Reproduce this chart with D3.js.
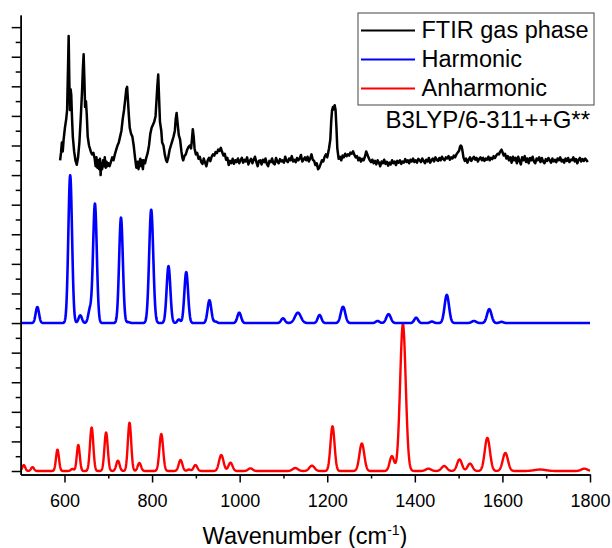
<!DOCTYPE html>
<html>
<head>
<meta charset="utf-8">
<script src="https://cdn.jsdelivr.net/npm/d3@7"></script>
<style>
body { margin: 0; background: #fff; }
svg text { font-family: "Liberation Sans", Arial, sans-serif; fill: #000; }
</style>
</head>
<body>
<svg id="fig" width="612" height="548"></svg>
<script>
// FTIR gas phase trace, [wavenumber, intensity] (offset units)
const ftir = [
  [590, 10.5], [592, 10.75], [594, 11.1], [596, 10.8], [598, 11.2], [601, 11.6], [604, 11.9],
  [606, 12.2], [608, 13.6], [609.5, 14.7], [611, 13.2], [612.5, 12.2], [614, 12.9], [615.5, 12.7],
  [617, 12.0], [619, 11.3], [622, 10.8], [625, 10.5], [628, 10.35], [631, 10.6], [634, 11.1],
  [637, 11.9], [640, 12.8], [642, 13.6], [643.7, 14.08], [645.5, 13.2], [647, 12.3], [649, 12.5],
  [651, 12.0], [653, 11.3], [656, 11.0], [660, 10.8], [663, 10.7], [666, 10.75], [669, 10.55],
  [671, 10.3], [673, 10.6], [675, 10.25], [677, 10.5], [679, 10.2], [681, 10.55], [682.5, 10.0],
  [684, 10.4], [686, 10.2], [688, 10.5], [690, 10.3], [692, 10.6], [694, 10.25], [696, 10.45],
  [698, 10.3], [700, 10.4], [703, 10.3], [706, 10.45], [709, 10.6], [712, 10.5], [715, 10.7],
  [718, 10.85], [721, 11.0], [724, 11.1], [727, 11.3], [730, 11.5], [733, 11.9], [736, 12.2],
  [739, 12.6], [741, 12.9], [743, 12.98], [745, 12.5], [747, 12.0], [749, 11.6], [752, 11.4],
  [755, 11.3], [758, 11.0], [761, 10.6], [764, 10.25], [767, 10.45], [769, 10.2], [771, 10.4],
  [773, 10.55], [775, 10.3], [777, 10.5], [779, 10.2], [781, 10.5], [784, 10.4], [787, 10.6],
  [790, 10.75], [793, 11.0], [796, 11.4], [799, 11.6], [802, 11.7], [805, 11.8], [808, 12.0],
  [810, 12.5], [812, 13.0], [814, 13.4], [816, 12.6], [818, 11.8], [821, 11.5], [823, 11.1],
  [826, 11.0], [829, 10.7], [832, 10.5], [834, 10.44], [837, 10.6], [840, 10.85], [843, 11.0],
  [846, 11.15], [849, 11.3], [852, 11.5], [854, 11.9], [856, 12.1], [858, 11.8], [861, 11.35],
  [864, 11.2], [867, 10.8], [869, 10.6], [871, 10.5], [874, 10.65], [877, 10.7], [880, 10.85],
  [883, 10.95], [886, 11.0], [889, 10.9], [891, 11.2], [893, 11.55], [895, 11.3], [897, 10.9],
  [900, 10.7], [903, 10.75], [906, 10.55], [909, 10.62], [912, 10.45], [915, 10.38], [918, 10.56],
  [921, 10.42], [924, 10.3], [927, 10.5], [930, 10.58], [933, 10.47], [936, 10.62], [939, 10.7],
  [942, 10.66], [945, 10.78], [948, 10.74], [951, 10.86], [954, 10.82], [957, 10.92], [960, 10.78],
  [963, 10.66], [966, 10.72], [969, 10.52], [972, 10.58], [975, 10.34], [978, 10.48], [981, 10.4],
  [984, 10.55], [987, 10.38], [990, 10.5], [993, 10.44], [996, 10.56], [999, 10.4], [1002, 10.5],
  [1005, 10.58], [1008, 10.42], [1011, 10.52], [1014, 10.46], [1017, 10.6], [1020, 10.36],
  [1023, 10.48], [1026, 10.55], [1029, 10.4], [1032, 10.52], [1035, 10.62], [1038, 10.45],
  [1041, 10.3], [1044, 10.48], [1047, 10.5], [1050, 10.36], [1053, 10.52], [1056, 10.44],
  [1059, 10.56], [1062, 10.38], [1065, 10.3], [1068, 10.48], [1071, 10.44], [1074, 10.56],
  [1077, 10.4], [1080, 10.36], [1083, 10.58], [1086, 10.46], [1089, 10.4], [1092, 10.54],
  [1095, 10.46], [1098, 10.5], [1101, 10.42], [1104, 10.62], [1107, 10.48], [1110, 10.44],
  [1113, 10.56], [1116, 10.5], [1119, 10.64], [1122, 10.46], [1125, 10.52], [1128, 10.44],
  [1131, 10.58], [1134, 10.5], [1137, 10.56], [1140, 10.68], [1143, 10.46], [1146, 10.52],
  [1149, 10.6], [1152, 10.5], [1155, 10.62], [1158, 10.46], [1161, 10.56], [1164, 10.7],
  [1167, 10.52], [1170, 10.48], [1173, 10.34], [1176, 10.4], [1179, 10.2], [1182, 10.26],
  [1185, 10.38], [1188, 10.5], [1191, 10.46], [1194, 10.62], [1197, 10.7], [1200, 10.6],
  [1202, 10.75], [1204, 10.9], [1207, 11.2], [1209, 11.8], [1211, 12.2], [1213, 12.3],
  [1215, 12.22], [1217, 12.36], [1219, 12.2], [1221, 11.6], [1223, 10.9], [1226, 10.55],
  [1229, 10.62], [1232, 10.5], [1235, 10.66], [1238, 10.6], [1241, 10.72], [1244, 10.64],
  [1247, 10.7], [1250, 10.66], [1253, 10.76], [1256, 10.72], [1259, 10.8], [1262, 10.68],
  [1265, 10.6], [1268, 10.64], [1271, 10.5], [1274, 10.58], [1277, 10.46], [1280, 10.55],
  [1283, 10.5], [1286, 10.62], [1289, 10.8], [1291, 10.72], [1294, 10.6], [1297, 10.5],
  [1300, 10.44], [1303, 10.52], [1306, 10.4], [1309, 10.48], [1312, 10.36], [1315, 10.5],
  [1318, 10.42], [1321, 10.3], [1324, 10.46], [1327, 10.4], [1330, 10.52], [1333, 10.38],
  [1336, 10.45], [1339, 10.32], [1342, 10.42], [1345, 10.36], [1348, 10.5], [1351, 10.4],
  [1354, 10.46], [1357, 10.34], [1360, 10.48], [1363, 10.42], [1366, 10.5], [1369, 10.38],
  [1372, 10.46], [1375, 10.42], [1378, 10.54], [1381, 10.44], [1384, 10.5], [1387, 10.4],
  [1390, 10.52], [1393, 10.46], [1396, 10.56], [1399, 10.44], [1402, 10.5], [1405, 10.42],
  [1408, 10.55], [1411, 10.5], [1414, 10.44], [1417, 10.56], [1420, 10.48], [1423, 10.4],
  [1426, 10.52], [1429, 10.46], [1432, 10.58], [1435, 10.42], [1438, 10.5], [1441, 10.56],
  [1444, 10.46], [1447, 10.6], [1450, 10.52], [1453, 10.48], [1456, 10.58], [1459, 10.5],
  [1462, 10.62], [1465, 10.54], [1468, 10.5], [1471, 10.6], [1474, 10.56], [1477, 10.64],
  [1480, 10.52], [1483, 10.6], [1486, 10.56], [1489, 10.66], [1492, 10.6], [1495, 10.7],
  [1498, 10.76], [1501, 10.82], [1503, 10.95], [1505, 11.0], [1507, 10.96], [1509, 10.8],
  [1511, 10.6], [1514, 10.48], [1517, 10.56], [1520, 10.42], [1523, 10.52], [1526, 10.6],
  [1529, 10.48], [1532, 10.56], [1535, 10.62], [1538, 10.52], [1541, 10.58], [1544, 10.46],
  [1547, 10.55], [1550, 10.6], [1553, 10.5], [1556, 10.58], [1559, 10.48], [1562, 10.56],
  [1565, 10.52], [1568, 10.62], [1571, 10.5], [1574, 10.58], [1577, 10.54], [1580, 10.64],
  [1583, 10.58], [1586, 10.66], [1589, 10.72], [1592, 10.7], [1595, 10.8], [1598, 10.86],
  [1600, 10.78], [1603, 10.66], [1606, 10.72], [1609, 10.56], [1612, 10.64], [1615, 10.5],
  [1618, 10.6], [1621, 10.42], [1624, 10.62], [1627, 10.5], [1630, 10.58], [1633, 10.4],
  [1636, 10.62], [1639, 10.48], [1642, 10.36], [1645, 10.6], [1648, 10.5], [1651, 10.64],
  [1654, 10.44], [1657, 10.56], [1660, 10.4], [1663, 10.58], [1666, 10.5], [1669, 10.62],
  [1672, 10.46], [1675, 10.4], [1678, 10.56], [1681, 10.5], [1684, 10.6], [1687, 10.44],
  [1690, 10.58], [1693, 10.46], [1696, 10.4], [1699, 10.54], [1702, 10.48], [1705, 10.58],
  [1708, 10.5], [1711, 10.42], [1714, 10.56], [1717, 10.46], [1720, 10.52], [1723, 10.44],
  [1726, 10.56], [1729, 10.5], [1732, 10.6], [1735, 10.46], [1738, 10.52], [1741, 10.42],
  [1744, 10.56], [1747, 10.48], [1750, 10.58], [1753, 10.44], [1756, 10.52], [1759, 10.5],
  [1762, 10.6], [1765, 10.46], [1768, 10.54], [1771, 10.4], [1774, 10.52], [1777, 10.58],
  [1780, 10.46], [1783, 10.54], [1786, 10.48], [1789, 10.56], [1792, 10.5], [1795, 10.44]
];

// Harmonic bands: centre (cm-1), height, FWHM (cm-1); drawn on an offset of 5
const harmPos    = [538, 613, 636, 658, 669.5, 729, 746, 798, 837.5, 861, 878, 931, 945, 999, 1099, 1133, 1182.5, 1236, 1315, 1340, 1403, 1439, 1473, 1535, 1570, 1598];
const harmHeight = [0.54, 4.99, 0.26, 0.45, 4.03, 3.56, 0.03, 3.83, 1.92, 0.12, 1.72, 0.77, 0.05, 0.35, 0.16, 0.35, 0.27, 0.55, 0.07, 0.3, 0.18, 0.05, 0.95, 0.07, 0.47, 0.04];
const harmWidth  = [9, 10, 9, 9, 10, 10, 8, 11, 10, 8, 10, 10, 8, 10, 10, 16, 10, 12, 10, 12, 10, 10, 12, 12, 12, 10];
const harmOffset = 5.0;

// Anharmonic bands: centre (cm-1), height, FWHM (cm-1); offset 0
const anhPos    = [507, 527, 584, 618, 631.5, 662, 695, 722, 748.5, 771, 821, 865, 884, 899, 958, 979, 1024.5, 1127, 1165, 1212, 1279, 1347.6, 1372.8, 1431, 1467, 1502, 1526, 1565.6, 1606.7, 1686, 1787];
const anhHeight = [0.2, 0.13, 0.72, 0.07, 0.88, 1.47, 1.3, 0.35, 1.63, 0.27, 1.25, 0.37, 0.05, 0.2, 0.54, 0.28, 0.09, 0.1, 0.18, 1.51, 0.93, 0.5, 4.97, 0.08, 0.17, 0.39, 0.25, 1.12, 0.61, 0.05, 0.08];
const anhWidth  = [8, 8, 8, 8, 8, 9, 9, 9, 9, 9, 10, 10, 8, 10, 12, 11, 12, 14, 14, 11, 13, 12, 15, 14, 14, 13, 13, 14, 14, 30, 16];
const anhOffset = 0;

const xMajor = [600, 800, 1000, 1200, 1400, 1600, 1800];
const xMinor = [700, 900, 1100, 1300, 1500, 1700];
const legendNames = ["FTIR gas phase", "Harmonic", "Anharmonic"];
const legendColors = ["#000000", "#0000ff", "#ff0000"];

const svg = d3.select("#fig");

const x = d3.scaleLinear().domain([500, 1800]).range([20.7, 590]);
const y = d3.scaleLinear().domain([-0.118, 15.41]).range([474.5, 15]);

// sum of gaussian bands on a fine grid
function broaden(pos, height, width, offset) {
    const pts = [];
    for (let w = 500; w <= 1800; w += 0.5) {
        let v = 0;
        pos.forEach((p, i) => {
            const s = width[i] / 2.3548;
            v += height[i] * Math.exp(-((w - p) ** 2) / (2 * s * s));
        });
        pts.push([w, offset + v]);
    }
    return pts;
}

const line = d3.line().x(d => x(d[0])).y(d => y(d[1]));

svg.append("path")
    .attr("d", line(broaden(anhPos, anhHeight, anhWidth, anhOffset)))
    .attr("fill", "none").attr("stroke", "#ff0000").attr("stroke-width", 2.4)
    .attr("stroke-linejoin", "round");

svg.append("path")
    .attr("d", line(broaden(harmPos, harmHeight, harmWidth, harmOffset)))
    .attr("fill", "none").attr("stroke", "#0000ff").attr("stroke-width", 2.6)
    .attr("stroke-linejoin", "round");

svg.append("path")
    .attr("d", line(ftir))
    .attr("fill", "none").attr("stroke", "#000000").attr("stroke-width", 2.5)
    .attr("stroke-linejoin", "round");

// axes
svg.append("g")
    .attr("transform", `translate(0,${y(-0.118)})`)
    .call(d3.axisBottom(x).tickValues(xMinor).tickSize(4).tickSizeOuter(0).tickFormat(""));
const xAxis = svg.append("g")
    .attr("transform", `translate(0,${y(-0.118)})`)
    .call(d3.axisBottom(x).tickValues(xMajor).tickSize(8).tickSizeOuter(0)
        .tickPadding(12).tickFormat(d3.format("d")));
xAxis.selectAll("text").style("font-size", "18px").attr("fill", "#000");

svg.append("g")
    .attr("transform", `translate(${x(500)},0)`)
    .call(d3.axisLeft(y).tickValues(d3.range(0.5, 15.4, 1)).tickSize(5).tickSizeOuter(0).tickFormat(""));
svg.append("g")
    .attr("transform", `translate(${x(500)},0)`)
    .call(d3.axisLeft(y).tickValues(d3.range(0, 16, 1)).tickSize(9).tickSizeOuter(0).tickFormat(""));

svg.selectAll(".domain, .tick line").attr("stroke", "#000").attr("stroke-width", 1.5);

// axis title
const title = svg.append("text")
    .attr("x", 305).attr("y", 544)
    .attr("text-anchor", "middle")
    .style("font-size", "23.5px");
title.append("tspan").text("Wavenumber (cm");
title.append("tspan").text("-1").attr("dy", -9).style("font-size", "14px");
title.append("tspan").text(")").attr("dy", 9);

// legend
const legend = svg.append("g");
legend.append("rect")
    .attr("x", 358).attr("y", 13).attr("width", 236).attr("height", 92)
    .attr("fill", "#fff").attr("stroke", "#444").attr("stroke-width", 1);

legendNames.forEach((name, i) => {
    const ly = 30.5 + i * 29;
    legend.append("line")
        .attr("x1", 361).attr("x2", 415).attr("y1", ly).attr("y2", ly)
        .attr("stroke", legendColors[i]).attr("stroke-width", 2);
    legend.append("text")
        .attr("x", 421.5).attr("y", ly + 7.5)
        .text(name)
        .style("font-size", "23.5px");
});

svg.append("text")
    .attr("x", 590).attr("y", 128)
    .attr("text-anchor", "end")
    .text("B3LYP/6-311++G**")
    .style("font-size", "24px");
</script>
</body>
</html>
